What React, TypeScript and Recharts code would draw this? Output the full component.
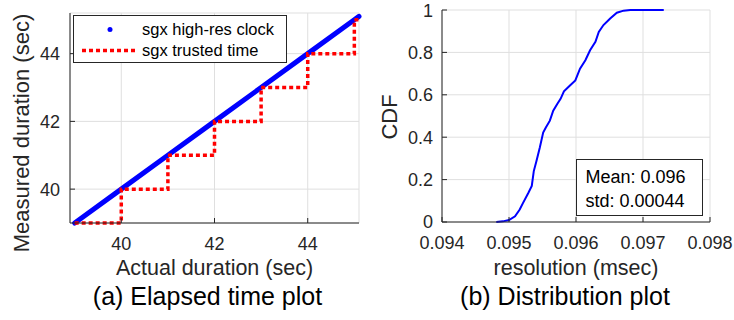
import { LineChart, Line, XAxis, YAxis, CartesianGrid, Legend, Label } from 'recharts';

// (a) elapsed time: actual vs measured duration (sec)
const actualDuration = [39, 40, 41, 42, 43, 44, 45, 45.1];
const highResClock = [39, 40, 41, 42, 43, 44, 45, 45.1];
const trustedTime = [39, 40, 41, 42, 43, 44, 45, 45];
const elapsedTicks = [40, 42, 44];

// (b) CDF of the clock resolution (msec)
const resolution = [
  0.09481, 0.09491, 0.095, 0.09509, 0.09516, 0.09521, 0.09529, 0.09534, 0.09537, 0.09541,
  0.09546, 0.09551, 0.09555, 0.09561, 0.09566, 0.09572, 0.09577, 0.09582, 0.09591, 0.09599,
  0.09606, 0.09614, 0.09621, 0.09629, 0.09634, 0.09641, 0.09651, 0.09661, 0.09671, 0.09681,
  0.09731,
];
const cdf = [
  0, 0.003, 0.009, 0.027, 0.059, 0.09, 0.138, 0.17, 0.24, 0.288,
  0.351, 0.422, 0.446, 0.478, 0.525, 0.557, 0.581, 0.616, 0.644, 0.668,
  0.723, 0.763, 0.81, 0.85, 0.897, 0.929, 0.96, 0.987, 0.997, 1,
  1,
];
const resolutionTicks = [0.094, 0.095, 0.096, 0.097, 0.098];
const cdfTicks = [0, 0.2, 0.4, 0.6, 0.8, 1];
const statsLines = ['Mean: 0.096', 'std: 0.00044'];

const FONT = '"Liberation Sans", Arial, Helvetica, sans-serif';
const AXIS = '#262626';
const GRID = '#dfdfdf';
const BLUE = '#0000ff';
const RED = '#ff0000';

const elapsedData = actualDuration.map((actual, i) => ({
  actual,
  highRes: highResClock[i],
  trusted: trustedTime[i],
}));

const cdfData = resolution.map((res, i) => ({ res, cdf: cdf[i] }));

const tickStyle = { fill: AXIS, fontSize: 18, fontFamily: FONT };

// rotated y title centred at a given offset inside the axis box
const yTitle = (text: string, dx: number, dy: number) => (props: any) => {
  const vb = props.viewBox || { x: 0, y: 0, height: 0 };
  const cx = vb.x + dx;
  const cy = vb.y + vb.height / 2 + dy;
  return (
    <text
      x={cx}
      y={cy}
      transform={`rotate(-90 ${cx} ${cy})`}
      textAnchor="middle"
      dominantBaseline="central"
      fill={AXIS}
      fontSize={22}
      fontFamily={FONT}
    >
      {text}
    </text>
  );
};

const ElapsedLegend = ({ payload }: any) => (
  <div
    style={{
      boxSizing: 'border-box',
      width: 214,
      height: 48,
      border: `1px solid ${AXIS}`,
      background: '#fff',
      paddingTop: 2.5,
      paddingLeft: 7,
      fontFamily: FONT,
      fontSize: 16.5,
      color: '#000',
    }}
  >
    {(payload || []).map((entry: any) => (
      <div key={entry.value} style={{ display: 'flex', alignItems: 'center', height: 21 }}>
        <svg width={61} height={21} style={{ display: 'block' }}>
          {entry.dataKey === 'trusted' ? (
            <line x1={1} y1={10.5} x2={56} y2={10.5} stroke={RED} strokeWidth={3.5} strokeDasharray="4 3" />
          ) : (
            <circle cx={29} cy={10.5} r={2.5} fill={BLUE} />
          )}
        </svg>
        <span style={{ lineHeight: '21px', whiteSpace: 'nowrap' }}>{entry.value}</span>
      </div>
    ))}
  </div>
);

const StatsBox = () => (
  <div
    style={{
      boxSizing: 'border-box',
      width: 127,
      height: 57,
      border: `1px solid ${AXIS}`,
      background: '#fff',
      paddingTop: 4.5,
      paddingLeft: 8.5,
      fontFamily: FONT,
      fontSize: 18,
      color: '#000',
    }}
  >
    {statsLines.map((s) => (
      <div key={s} style={{ lineHeight: '24px', whiteSpace: 'nowrap' }}>
        {s}
      </div>
    ))}
  </div>
);

const captionStyle = (center: number): React.CSSProperties => ({
  position: 'absolute',
  left: center,
  top: 284,
  transform: 'translateX(-50%)',
  fontFamily: FONT,
  fontSize: 25,
  lineHeight: '25px',
  color: '#000',
  whiteSpace: 'nowrap',
});

export default function App() {
  return (
    <div style={{ position: 'absolute', left: 0, top: 0, width: 734, height: 320, background: '#fff' }}>
      <div style={{ position: 'absolute', left: 0, top: 0 }}>
        <LineChart width={370} height={320} data={elapsedData} margin={{ top: 13, right: 11, bottom: 37, left: 0 }}>
          <CartesianGrid stroke={GRID} strokeWidth={1} />
          <XAxis
            dataKey="actual"
            type="number"
            domain={[38.9, 45.1]}
            ticks={elapsedTicks}
            height={60}
            stroke={AXIS}
            tickSize={-5}
            tickMargin={19}
            tick={tickStyle}
          >
            <Label value="Actual duration (sec)" position="insideBottom" offset={8} fill={AXIS} fontSize={21.5} fontFamily={FONT} />
          </XAxis>
          <XAxis xAxisId="top" orientation="top" type="number" domain={[38.9, 45.1]} ticks={elapsedTicks} height={0} stroke={AXIS} tickSize={-5} tick={false} />
          <YAxis
            type="number"
            domain={[39, 45.2]}
            ticks={elapsedTicks}
            width={70}
            stroke={AXIS}
            tickSize={-5}
            tickMargin={15}
            tick={tickStyle}
          >
            <Label content={yTitle('Measured duration (sec)', 21, 15)} />
          </YAxis>
          <YAxis yAxisId="right" orientation="right" type="number" domain={[39, 45.2]} ticks={elapsedTicks} width={0} stroke={AXIS} tickSize={-5} tick={false} />
          <Legend
            layout="horizontal"
            verticalAlign="middle"
            align="center"
            wrapperStyle={{ left: 73, top: 15, width: 214, height: 48 }}
            content={ElapsedLegend}
          />
          <Line
            dataKey="highRes"
            name="sgx high-res clock"
            type="linear"
            stroke={BLUE}
            strokeWidth={5}
            strokeLinecap="round"
            dot={false}
            isAnimationActive={false}
          />
          <Line
            dataKey="trusted"
            name="sgx trusted time"
            type="stepAfter"
            stroke={RED}
            strokeWidth={3.5}
            strokeDasharray="4 3"
            dot={false}
            isAnimationActive={false}
          />
        </LineChart>
      </div>
      <div style={captionStyle(207.5)}>(a) Elapsed time plot</div>

      <div style={{ position: 'absolute', left: 370, top: 0 }}>
        <LineChart width={364} height={320} data={cdfData} margin={{ top: 10, right: 24, bottom: 38, left: 0 }}>
          <CartesianGrid stroke={GRID} strokeWidth={1} />
          <XAxis
            dataKey="res"
            type="number"
            domain={[0.094, 0.098]}
            ticks={resolutionTicks}
            height={60}
            stroke={AXIS}
            tickSize={-5}
            tickMargin={19}
            tick={tickStyle}
          >
            <Label value="resolution (msec)" position="insideBottom" offset={7} fill={AXIS} fontSize={21.5} fontFamily={FONT} />
          </XAxis>
          <XAxis xAxisId="top" orientation="top" type="number" domain={[0.094, 0.098]} ticks={resolutionTicks} height={0} stroke={AXIS} tickSize={-5} tick={false} />
          <YAxis
            type="number"
            domain={[0, 1]}
            ticks={cdfTicks}
            width={72}
            stroke={AXIS}
            tickSize={-5}
            tickMargin={14}
            tick={tickStyle}
          >
            <Label content={yTitle('CDF', 19, 1)} />
          </YAxis>
          <YAxis yAxisId="right" orientation="right" type="number" domain={[0, 1]} ticks={cdfTicks} width={0} stroke={AXIS} tickSize={-5} tick={false} />
          <Legend
            layout="horizontal"
            verticalAlign="middle"
            align="center"
            wrapperStyle={{ left: 206, top: 159, width: 127, height: 57 }}
            content={StatsBox}
          />
          <Line
            dataKey="cdf"
            name="CDF"
            type="linear"
            stroke={BLUE}
            strokeWidth={2}
            dot={false}
            isAnimationActive={false}
          />
        </LineChart>
      </div>
      <div style={captionStyle(565)}>(b) Distribution plot</div>
    </div>
  );
}
